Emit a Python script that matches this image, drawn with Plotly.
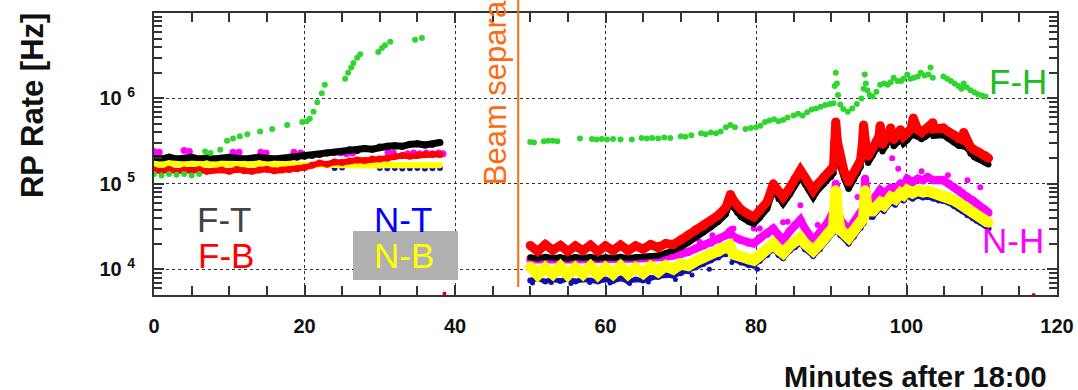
import math
import plotly.graph_objects as go

FONT = "Liberation Sans, Arial, Helvetica, sans-serif"

# ---------------- data (minutes after 18:00, rate in Hz) ----------------
# F-T (black)
ft_left_x = [0, 1, 2, 3, 4, 5, 6, 7, 8, 9, 10, 11, 12, 13, 14, 15, 16, 17, 18, 19, 20, 21, 22, 23, 24,
             25, 26, 27, 28, 29, 30, 31, 32, 33, 34, 35, 36, 37, 38]
ft_left_y = [2.0e5, 1.95e5, 2.05e5, 1.95e5, 2.0e5, 2.05e5, 1.95e5, 2.0e5, 1.95e5, 2.0e5, 2.05e5,
             2.0e5, 1.95e5, 2.0e5, 2.05e5, 2.0e5, 1.95e5, 2.0e5, 2.05e5, 2.05e5, 2.1e5, 2.15e5, 2.2e5,
             2.3e5, 2.35e5, 2.4e5, 2.5e5, 2.45e5, 2.6e5, 2.55e5, 2.7e5, 2.75e5, 2.8e5, 2.75e5, 2.9e5,
             2.95e5, 2.85e5, 2.9e5, 3.05e5]
ft_right_x = [50, 51, 52, 53, 54, 55, 56, 57, 58, 59, 60, 61, 62, 63, 64, 65, 66, 67, 68, 69, 70,
              71, 72, 73, 74, 75, 76, 76.6, 77, 77.5, 78, 79, 79.7, 80.5, 81.5, 82.3, 83, 83.6, 84.5,
              85.2, 85.9, 86.5, 87, 87.6, 88, 89, 90, 90.3, 90.45, 90.6, 90.8, 91.2, 91.7, 92.3, 93,
              93.5, 93.9, 94.15, 94.3, 94.6, 94.9, 95.5, 96, 96.35, 96.5, 96.8, 97.3, 97.6, 97.9, 98.3,
              98.8, 99.2, 99.6, 100.1, 100.6, 100.9, 101.2, 101.5, 102, 102.5, 103, 103.5, 103.6,
              104.9, 105.5, 106.3, 106.9, 107.4, 107.6, 108, 108.5, 109, 109.4, 109.8, 110.4, 110.9]
ft_right_y = [1.38e4, 1.34e4, 1.4e4, 1.36e4, 1.38e4, 1.33e4, 1.39e4, 1.36e4, 1.4e4, 1.34e4, 1.38e4,
              1.36e4, 1.4e4, 1.36e4, 1.38e4, 1.4e4, 1.42e4, 1.45e4, 1.55e4, 1.65e4, 1.8e4,
              2.05e4, 2.4e4, 2.7e4, 3.1e4, 3.6e4, 4.4e4, 6.2e4, 5.3e4, 4.6e4, 4.1e4, 3.6e4, 3.4e4,
              4.0e4, 5.1e4, 8.4e4, 6.6e4, 5.8e4, 7.5e4, 9.6e4, 1.2e5, 9.9e4, 8.4e4, 6.9e4, 7.9e4,
              9.9e4, 1.2e5, 1.33e5, 2.5e5, 4.4e5, 2.65e5, 1.58e5, 1.16e5, 8.7e4, 1.12e5, 1.33e5, 1.58e5,
              2.5e5, 4.0e5, 2.3e5, 1.75e5, 2.15e5, 2.55e5, 2.95e5, 3.95e5, 2.4e5, 2.8e5, 3.25e5, 3.7e5,
              2.75e5, 3.05e5, 3.55e5, 2.95e5, 3.25e5, 3.65e5, 4.9e5, 3.65e5, 3.55e5, 3.35e5, 3.55e5,
              3.8e5, 4.3e5, 3.65e5, 3.7e5, 3.4e5, 3.05e5, 2.8e5, 2.75e5, 3.3e5, 2.65e5, 2.25e5, 2.05e5,
              1.97e5, 1.9e5, 1.78e5, 1.68e5]

# F-B (red)
fb_left_x = [0, 1, 2, 3, 4, 5, 6, 7, 9, 10, 11, 12, 13, 14, 15, 16, 17, 18, 19, 20, 21, 22, 23, 24,
             25, 26, 27, 28, 29, 30, 31, 32, 33, 34, 35, 36, 37, 38]
fb_left_y = [1.45e5, 1.4e5, 1.48e5, 1.4e5, 1.45e5, 1.42e5, 1.47e5, 1.4e5, 1.45e5, 1.4e5, 1.47e5,
             1.42e5, 1.4e5, 1.45e5, 1.48e5, 1.42e5, 1.45e5, 1.47e5, 1.5e5, 1.55e5, 1.65e5, 1.75e5,
             1.7e5, 1.8e5, 1.78e5, 1.85e5, 1.9e5, 1.88e5, 1.95e5, 1.95e5, 2.0e5, 2.1e5, 2.15e5,
             2.1e5, 2.15e5, 2.2e5, 2.2e5, 2.2e5]
fb_right_x = ft_right_x
fb_right_y = [1.9e4, 1.62e4, 1.95e4, 1.68e4, 1.9e4, 1.62e4, 1.88e4, 1.66e4, 1.92e4, 1.62e4, 1.88e4,
              1.66e4, 1.92e4, 1.66e4, 1.88e4, 1.72e4, 1.95e4, 1.8e4, 2.0e4, 1.95e4, 2.2e4,
              2.5e4, 2.9e4, 3.2e4, 3.7e4, 4.3e4, 5.3e4, 7.5e4, 6.4e4, 5.6e4, 5.0e4, 4.4e4, 4.1e4,
              4.9e4, 6.2e4, 1.0e5, 8.0e4, 7.0e4, 9.0e4, 1.15e5, 1.45e5, 1.2e5, 1.0e5, 8.4e4, 9.5e4,
              1.2e5, 1.45e5, 1.6e5, 3.0e5, 5.3e5, 3.2e5, 1.9e5, 1.4e5, 1.05e5, 1.35e5, 1.6e5, 1.9e5,
              3.0e5, 4.9e5, 2.8e5, 2.1e5, 2.6e5, 3.1e5, 3.6e5, 4.8e5, 2.9e5, 3.4e5, 3.9e5, 4.5e5,
              3.3e5, 3.7e5, 4.3e5, 3.6e5, 3.9e5, 4.4e5, 5.9e5, 4.4e5, 4.3e5, 4.0e5, 4.3e5, 4.6e5,
              5.2e5, 4.4e5, 4.5e5, 4.1e5, 3.7e5, 3.4e5, 3.3e5, 4.0e5, 3.2e5, 2.7e5, 2.5e5, 2.4e5,
              2.3e5, 2.15e5, 2.0e5]
fb_low_x = [38.6, 116.9]
fb_low_y = [5.2e3, 5.0e3]

# N-T (blue)
nt_left_x = [4.5, 5, 5.5, 24, 25, 30, 31, 32, 33, 34, 35, 36, 37, 38]
nt_left_y = [1.55e5, 1.58e5, 1.55e5, 1.53e5, 1.55e5, 1.53e5, 1.52e5, 1.53e5, 1.51e5, 1.52e5, 1.53e5,
             1.51e5, 1.52e5, 1.53e5]
nt_right_x = [50, 51, 52, 53, 54, 55, 56, 57, 58, 59, 60, 61, 62, 63, 64, 65, 66, 67, 68, 69, 70,
              71, 72, 73, 74, 75, 76, 76.5, 77, 78, 79, 79.7, 80.5, 81.5, 82.3, 83, 83.6, 84.5, 85.2,
              85.9, 86.5, 87.6, 88.5, 89.5, 90.3, 90.6, 90.9, 91.2, 92.3, 93, 93.9, 94.3, 94.5, 94.8,
              95.5, 96, 96.5, 97, 97.9, 98.5, 99.2, 99.6, 100.1, 100.8, 101.5, 102.2, 102.8, 103.6,
              104.3, 104.9, 105.6, 106.3, 106.9, 107.4, 108.1, 108.8, 109.3, 109.8, 110.4, 110.9]
nt_right_y = [7.4e3, 7.8e3, 7.2e3, 7.6e3, 7.3e3, 7.7e3, 7.2e3, 7.6e3, 7.4e3, 7.2e3, 7.6e3, 7.3e3,
              7.8e3, 7.2e3, 7.6e3, 7.4e3, 7.9e3, 8.1e3, 8.5e3, 8.4e3, 9.0e3,
              9.5e3, 1.05e4, 1.15e4, 1.27e4, 1.37e4, 1.5e4, 1.62e4, 1.3e4, 1.2e4, 1.12e4, 1.1e4,
              1.25e4, 1.47e4, 1.72e4, 1.47e4, 1.35e4, 1.65e4, 1.82e4, 2.02e4, 1.72e4, 1.43e4, 1.72e4,
              2.25e4, 2.7e4, 7.0e4, 3.4e4, 2.5e4, 2.0e4, 2.4e4, 3.05e4, 3.45e4, 7.0e4, 4.1e4, 4.1e4,
              4.7e4, 5.2e4, 4.8e4, 6.0e4, 5.7e4, 6.7e4, 6.4e4, 7.2e4, 6.7e4, 7.2e4, 6.9e4, 7.0e4,
              6.7e4, 6.4e4, 6.3e4, 6.0e4, 5.5e4, 5.1e4, 4.8e4, 4.3e4, 3.95e4, 3.7e4, 3.5e4, 3.25e4,
              3.0e4]
nt_out_x = [50.3, 52.8, 55.4, 57.9, 60.6, 63.2, 65.7, 69.3, 71.5, 73.8, 76.8, 80.2]
nt_out_y = [6.9e3, 7.0e3, 6.8e3, 7.0e3, 6.9e3, 6.8e3, 7.1e3, 7.6e3, 8.6e3, 1.0e4, 1.2e4, 1.0e4]

# N-B (yellow)
nb_left_x = ft_left_x
nb_left_y = [1.72e5, 1.68e5, 1.74e5, 1.7e5, 1.68e5, 1.72e5, 1.7e5, 1.74e5, 1.68e5, 1.72e5, 1.7e5,
             1.68e5, 1.72e5, 1.7e5, 1.74e5, 1.68e5, 1.72e5, 1.7e5, 1.72e5, 1.7e5, 1.68e5, 1.66e5,
             1.68e5, 1.65e5, 1.67e5, 1.65e5, 1.66e5, 1.64e5, 1.66e5, 1.65e5, 1.64e5, 1.66e5, 1.65e5,
             1.64e5, 1.66e5, 1.65e5, 1.64e5, 1.65e5, 1.65e5]
nb_right_x = [50, 51, 52, 53, 54, 55, 56, 57, 58, 59, 60, 61, 62, 63, 64, 65, 66, 67, 68, 69, 70,
              71, 72, 73, 74, 75, 76, 76.5, 77, 78, 79, 79.7, 80.5, 81.5, 82.3, 83, 83.6, 84.5, 85.2,
              85.9, 86.5, 87.6, 88.5, 89.5, 90.3, 90.5, 90.6, 90.9, 91.2, 92.3, 93, 93.9, 94.3, 94.5,
              94.8, 95.5, 96, 96.5, 97, 97.9, 98.5, 99.2, 99.6, 100.1, 100.8, 101.5, 102.2, 102.8,
              103.6, 104.3, 104.9, 105.6, 106.3, 106.9, 107.4, 108.1, 108.8, 109.3, 109.8, 110.4,
              110.9]
nb_right_y = [1.08e4, 0.86e4, 1.04e4, 0.88e4, 1.08e4, 0.86e4, 1.04e4, 0.88e4, 1.08e4, 0.86e4, 1.04e4,
              0.88e4, 1.08e4, 0.88e4, 1.04e4, 0.9e4, 1.08e4, 0.94e4, 1.1e4, 1.0e4, 1.15e4,
              1.1e4, 1.25e4, 1.35e4, 1.5e4, 1.6e4, 1.75e4, 1.9e4, 1.5e4, 1.4e4, 1.3e4, 1.27e4, 1.45e4,
              1.7e4, 2.0e4, 1.7e4, 1.55e4, 1.9e4, 2.1e4, 2.35e4, 2.0e4, 1.65e4, 2.0e4, 2.6e4, 3.1e4,
              6.0e4, 8.4e4, 4.0e4, 2.9e4, 2.35e4, 2.8e4, 3.5e4, 4.0e4, 8.4e4, 4.8e4, 4.8e4, 5.5e4,
              6.0e4, 5.6e4, 7.0e4, 6.6e4, 7.8e4, 7.4e4, 8.4e4, 7.8e4, 8.4e4, 8.0e4, 8.2e4, 7.8e4,
              7.5e4, 7.3e4, 7.0e4, 6.4e4, 6.0e4, 5.6e4, 5.0e4, 4.6e4, 4.3e4, 4.1e4, 3.8e4, 3.5e4]

# F-H (green)
fh_x = [0, 1, 2, 3, 4, 5, 6, 6.8, 7.5, 8.8, 9.7, 10.5, 11.4, 12.4, 14.1, 15.7, 17.7, 19.7, 20.3, 20.7,
        21.2, 21.7, 22.3, 22.7, 25.4, 25.8, 26.2, 26.5, 27, 27.4, 29.8, 30.3, 30.7, 31.4, 34.7, 35.6,
        50, 50.5, 51.8, 52.4, 53, 53.6, 56.6, 58.2, 58.8, 59.5, 60.2, 61, 62, 63.5, 64.8, 65.5, 66.2, 67,
        67.8, 68.6, 70, 70.6, 71.4, 72.7, 73.3, 74, 74.7, 75.3, 76, 76.6, 77.2, 78.6, 79.3, 80, 80.6,
        81.2, 81.8, 82.4, 83, 83.6, 84.2, 85, 85.6, 86.2, 86.8, 87.4, 88, 88.6, 89.2, 89.8, 90.3, 90.45,
        90.6, 90.75, 90.9, 91.2, 91.6, 92.2, 92.8, 93.4, 94, 94.3, 94.45, 94.6, 94.8, 95.1, 95.5, 96,
        96.5, 97, 97.5, 97.9, 98.3, 98.8, 99.3, 99.6, 100.1, 100.5, 101, 101.5, 101.9, 102.4, 102.9,
        103.2, 103.5, 104.9, 105.4, 105.9, 106.4, 106.9, 107.3, 107.6, 108, 108.5, 109, 109.5, 110,
        110.5]
fh_y = [1.3e5, 1.25e5, 1.3e5, 1.28e5, 1.3e5, 1.25e5, 1.3e5, 2.4e5, 2.3e5, 2.5e5, 3.2e5, 3.4e5, 3.6e5,
        3.8e5, 4.1e5, 4.4e5, 4.9e5, 5.3e5, 5.4e5, 5.8e5, 7.0e5, 9.0e5, 1.15e6, 1.45e6, 1.7e6, 2.0e6,
        2.3e6, 2.6e6, 3.0e6, 3.3e6, 3.5e6, 3.9e6, 4.2e6, 4.6e6, 4.85e6, 5.1e6,
        3.1e5, 3.05e5, 3.15e5, 3.2e5, 3.2e5, 3.15e5, 3.4e5, 3.35e5, 3.3e5, 3.35e5, 3.3e5, 3.35e5, 3.3e5,
        3.3e5, 3.45e5, 3.4e5, 3.45e5, 3.4e5, 3.5e5, 3.45e5, 3.6e5, 3.55e5, 3.7e5, 3.9e5, 3.8e5, 4.0e5,
        3.9e5, 4.1e5, 4.6e5, 4.9e5, 4.6e5, 4.4e5, 4.5e5, 4.6e5, 4.8e5, 5.3e5, 5.5e5, 5.7e5, 5.4e5,
        5.6e5, 6.0e5, 6.3e5, 6.6e5, 6.3e5, 6.9e5, 7.4e5, 7.6e5, 8.0e5, 8.4e5, 8.6e5, 8.8e5, 1.4e6,
        2.0e6, 1.5e6, 1.1e6, 8.5e5, 7.5e5, 7.0e5, 7.6e5, 8.6e5, 1.0e6, 1.3e6, 1.9e6, 1.5e6, 1.25e6,
        1.1e6, 1.05e6, 1.2e6, 1.45e6, 1.5e6, 1.45e6, 1.55e6, 1.75e6, 1.6e6, 1.6e6, 1.7e6, 1.9e6, 1.7e6,
        1.75e6, 1.8e6, 2.0e6, 1.85e6, 1.9e6, 2.3e6, 1.75e6, 1.8e6, 1.7e6, 1.6e6, 1.5e6, 1.4e6, 1.3e6,
        1.5e6, 1.35e6, 1.25e6, 1.18e6, 1.12e6, 1.08e6, 1.05e6]

# N-H (magenta)
nh_left_x = [0, 0.7, 4, 4.7, 10.5, 11.3, 14.2, 14.9, 18.6, 19.5, 24.8, 25.6, 26.4, 31.1, 31.8, 33.7,
             34.5, 35.3, 36.2, 37, 37.8, 38.4]
nh_left_y = [2.4e5, 2.35e5, 2.45e5, 2.4e5, 2.35e5, 2.35e5, 2.35e5, 2.3e5, 2.35e5, 2.3e5, 2.3e5,
             2.25e5, 2.3e5, 2.35e5, 2.3e5, 2.25e5, 2.3e5, 2.25e5, 2.3e5, 2.25e5, 2.3e5, 2.25e5]
nh_right_x = [50, 52, 54, 56, 58, 60, 62, 64, 65, 66, 67, 68, 69, 70, 71, 72, 73, 74, 75, 76, 76.5,
              77, 78, 79, 79.7, 80.5, 81.5, 82.3, 83, 83.6, 84.5, 85.2, 85.9, 86.5, 87.6, 88.5, 89.5,
              90.3, 90.6, 90.9, 91.2, 92.3, 93, 93.9, 94.3, 94.5, 94.8, 95.5, 96, 96.5, 97, 97.9, 98.5,
              99.2, 99.6, 100.1, 100.8, 101.5, 102.2, 102.8, 103.6, 104.3, 104.9, 105.6, 106.3, 106.9,
              107.4, 108.1, 108.8, 109.3, 109.8, 110.4, 110.9]
nh_right_y = [1.3e4, 1.28e4, 1.3e4, 1.3e4, 1.32e4, 1.3e4, 1.32e4, 1.33e4, 1.35e4, 1.35e4, 1.4e4,
              1.4e4, 1.45e4, 1.5e4, 1.6e4, 1.75e4, 1.9e4, 2.05e4, 2.25e4, 2.5e4, 2.75e4, 2.4e4, 2.2e4,
              2.05e4, 2.0e4, 2.3e4, 2.6e4, 3.0e4, 2.5e4, 2.2e4, 2.8e4, 3.3e4, 3.8e4, 3.0e4, 2.2e4,
              2.7e4, 3.5e4, 4.8e4, 1.0e5, 5.0e4, 3.8e4, 2.9e4, 3.5e4, 4.5e4, 5.3e4, 1.15e5, 6.0e4,
              6.4e4, 7.2e4, 8.5e4, 7.8e4, 9.0e4, 8.8e4, 1.0e5, 9.5e4, 1.15e5, 1.05e5, 1.15e5, 1.1e5,
              1.2e5, 1.1e5, 1.12e5, 1.1e5, 1.0e5, 9.2e4, 8.5e4, 7.8e4, 7.0e4, 6.4e4, 5.8e4, 5.3e4,
              5.0e4, 4.6e4]
nh_out_x = [72.5, 74.2, 77, 79.7, 80.5, 83.6, 84.2, 85.9, 88.2, 93.5, 98.1, 98.9, 102, 105.5, 108.1,
            109.8]
nh_out_y = [2.1e4, 2.5e4, 3.0e4, 3.0e4, 3.0e4, 3.55e4, 3.6e4, 5.6e4, 3.3e4, 7.0e4, 2.0e5, 1.5e5,
            1.4e5, 1.26e5, 1.1e5, 9.1e4]

# axis ticks and labels
x_major = [0, 20, 40, 60, 80, 100, 120]
x_labels = ["0", "20", "40", "60", "80", "100", "120"]
x_minor = [5, 10, 15, 25, 30, 35, 45, 50, 55, 65, 70, 75, 85, 90, 95, 105, 110, 115]
y_major = [1e4, 1e5, 1e6]
y_labels = ["10 <sup>4</sup>", "10 <sup>5</sup>", "10 <sup>6</sup>"]
y_minor = [6e3, 7e3, 8e3, 9e3] + [d * 10 ** e for e in (4, 5, 6) for d in range(2, 10)]
beam_sep_minute = 48.4

# ---------------- figure ----------------
fig = go.Figure()

def band(x, y, color, width, size):
    fig.add_trace(go.Scatter(x=x, y=y, mode="lines+markers", showlegend=False, hoverinfo="skip",
                             line=dict(color=color, width=width),
                             marker=dict(color=color, size=size, line=dict(width=0))))

def dots(x, y, color, size):
    fig.add_trace(go.Scatter(x=x, y=y, mode="markers", showlegend=False, hoverinfo="skip",
                             marker=dict(color=color, size=size, line=dict(width=0))))

BLUE, MAG, BLK, YEL, RED, GRN = "#1010b0", "#ff00ff", "#000000", "#ffff00", "#ff0000", "#2fd62f"
dots(nt_left_x, nt_left_y, BLUE, 6)
band(nt_right_x, nt_right_y, BLUE, 5, 6)
dots(nt_out_x, nt_out_y, BLUE, 5)
dots(nh_left_x, nh_left_y, MAG, 7)
band(nh_right_x, nh_right_y, MAG, 8, 8)
dots(nh_out_x, nh_out_y, MAG, 6)
band(ft_left_x, ft_left_y, BLK, 7, 7)
band(ft_right_x, ft_right_y, BLK, 6, 6)
band(nb_left_x, nb_left_y, YEL, 6, 6)
band(nb_right_x, nb_right_y, YEL, 11, 10)
band(fb_left_x, fb_left_y, RED, 6, 7)
band(fb_right_x, fb_right_y, RED, 9, 9)
dots(fb_low_x, fb_low_y, "#dd0000", 4)
dots(fh_x, fh_y, GRN, 6)

axis_common = dict(showline=True, linecolor="#333", linewidth=2, mirror="ticks",
                   ticks="inside", tickcolor="#333", tickwidth=1.5,
                   showgrid=True, gridcolor="#333", griddash="dot", gridwidth=1.3,
                   zeroline=False, automargin=False,
                   tickfont=dict(family=FONT, size=20, color="#111", weight="bold"))

fig.update_layout(
    width=1078, height=390,
    margin=dict(l=154, r=21, t=13, b=95),
    paper_bgcolor="white", plot_bgcolor="white",
    xaxis=dict(range=[0, 120], tickmode="array", tickvals=x_major, ticktext=x_labels,
               ticklen=10, ticklabelstandoff=12,
               minor=dict(tickmode="array", tickvals=x_minor, ticks="inside", ticklen=9,
                          tickwidth=1.5, tickcolor="#333", showgrid=False),
               **axis_common),
    yaxis=dict(type="log", range=[math.log10(5000), 7], tickmode="array", tickvals=y_major,
               ticktext=y_labels, ticklen=10, ticklabelstandoff=13,
               minor=dict(tickmode="array", tickvals=y_minor, ticks="inside", ticklen=8,
                          tickwidth=1.5, tickcolor="#333", showgrid=False),
               **axis_common),
)

# beam separation line
fig.add_shape(type="line", xref="x", yref="paper", x0=beam_sep_minute, x1=beam_sep_minute,
              y0=0.028, y1=1.2, line=dict(color="#ff6a10", width=2), layer="above")
# grey box behind N-B
fig.add_shape(type="rect", xref="paper", yref="paper", x0=0.2204, x1=0.3367, y0=0.0532, y1=0.227,
              fillcolor="#b0b0b0", line=dict(width=0), layer="above")

def label(text, x, y, color, size=35, weight="normal", angle=0, xanchor="center", yanchor="middle"):
    fig.add_annotation(text=text, x=x, y=y, xref="paper", yref="paper", showarrow=False,
                       textangle=angle, xanchor=xanchor, yanchor=yanchor,
                       font=dict(family=FONT, size=size, color=color, weight=weight))

label("F-T", 0.0770, 0.266, "#444444")
label("F-B", 0.0792, 0.140, "#ff0000")
label("N-T", 0.2757, 0.266, "#0000ff")
label("N-B", 0.2769, 0.140, "#ffff00")
label("F-H", 0.9563, 0.757, "#22bb22")
label("N-H", 0.9518, 0.193, "#ff00ff")
label("Beam separation", 0.379, 0.383, "#ff6a10", size=31, angle=-90, yanchor="bottom")
label("RP Rate [Hz]", -0.1351, 0.670, "#111", size=31, weight="bold", angle=-90)
label("Minutes after 18:00", 0.991, -0.291, "#111", size=29, weight="bold", xanchor="right")

fig.write_html("out.html", config={"displayModeBar": False},
               post_script="document.body.style.margin='0';")
